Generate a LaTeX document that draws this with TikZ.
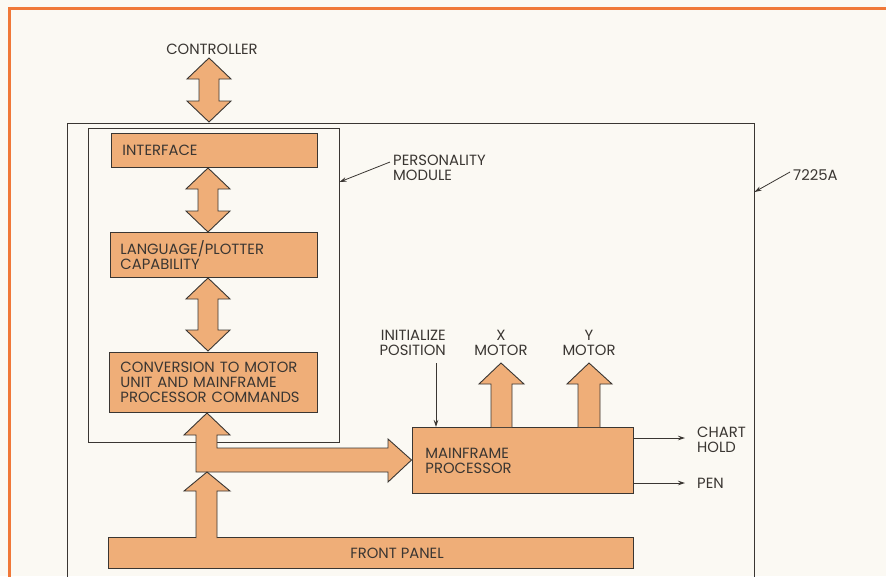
\documentclass[tikz,border=0pt]{standalone}
\usepackage{fontspec}
\setmainfont{Poppins}
\usetikzlibrary{arrows.meta,calc}
\definecolor{bg}{HTML}{FBF9F3}
\definecolor{boxfill}{HTML}{EFAE78}
\definecolor{frameor}{HTML}{F07838}
\definecolor{ink}{HTML}{3A3632}
\begin{document}
\begin{tikzpicture}[x=1pt,y=-1pt,
  every node/.style={font=\fontsize{14.8}{15}\selectfont, text=ink, inner sep=0pt},
  block/.style={draw=ink, line width=0.9pt, fill=boxfill, anchor=north west, align=left, inner ysep=0pt},
  fat/.style={draw=ink, line width=0.9pt, fill=boxfill, line join=miter},
  frameline/.style={draw=ink, line width=0.8pt},
  thinarrow/.style={draw=ink, line width=0.8pt, -{Stealth[length=7pt,width=4.5pt]}},
  lbl/.style={align=left}]
% background and bounding box
\fill[bg] (0,0) rectangle (886,576);
\useasboundingbox (0,0) rectangle (886,576);
% orange frame
\draw[frameor, line width=3pt] (9.5,600) -- (9.5,8.5) -- (900,8.5);
% outer 7225A box (open at bottom)
\draw[frameline] (67,600) -- (67,123) -- (754,123) -- (754,600);
% personality module box
\draw[frameline] (88,128) rectangle (339,442);
\coordinate (pmR) at (339.5,182);
\coordinate (outR) at (754.5,192);

% blocks
\node[block, inner xsep=11pt, text width=184pt, minimum height=34pt] (iface) at (111,133) {INTERFACE};
\node[block, inner xsep=10pt, text width=187pt, minimum height=45pt] (lang) at (110,232) {LANGUAGE/PLOTTER\\CAPABILITY};
\node[block, inner xsep=11pt, text width=186pt, minimum height=60pt] (conv) at (109,352) {CONVERSION TO MOTOR\\UNIT AND MAINFRAME\\PROCESSOR COMMANDS};
\node[block, inner xsep=13pt, text width=195pt, minimum height=66pt] (mf) at (412,427) {MAINFRAME\\PROCESSOR};
\node[block, minimum width=525pt, minimum height=31pt] (fp) at (108,537) {};
\node (fptext) at (397,553) {FRONT PANEL};

% labels
\node (ctrl) at (212,49) {CONTROLLER};
\node[lbl, anchor=west] (pm) at (393,168) {PERSONALITY\\MODULE};
\node[anchor=west] (unit) at (793,175) {7225A};
\node[align=right, anchor=east] (init) at (446,342.5) {INITIALIZE\\POSITION};
\node[align=center] (xm) at (501,342.5) {X\\MOTOR};
\node[align=center] (ym) at (589,342.5) {Y\\MOTOR};
\node[lbl, anchor=west] (chart) at (697,440) {CHART\\HOLD};
\node[anchor=west] (pen) at (697,483) {PEN};

% double fat arrows: #1 centre x, #2 top tip y, #3 bottom tip y
\newcommand\dblfat[3]{%
  \filldraw[fat] (#1,#2) -- (#1+22,#2+21) -- (#1+10,#2+21) -- (#1+10,#3-21) -- (#1+22,#3-21)
    -- (#1,#3) -- (#1-22,#3-21) -- (#1-10,#3-21) -- (#1-10,#2+21) -- (#1-22,#2+21) -- cycle;}
\dblfat{209}{58}{122}
\dblfat{208}{168}{232}
\dblfat{208}{278}{351}

% combined arrow: up to conversion, right to mainframe
\filldraw[fat] (207,413) -- (230,435) -- (217,435) -- (217,448) -- (388,448) -- (388,439)
  -- (411.5,460) -- (388,482) -- (388,472) -- (196,472) -- (196,435) -- (184,435) -- cycle;
% arrow from front panel
\fill[boxfill] (196.4,537) rectangle (216.6,538.5);
\filldraw[fat] (196,538.2) -- (196,491) -- (184,491) -- (207,472) -- (230,491) -- (217,491) -- (217,538.2);

% X and Y motor arrows
\filldraw[fat] (491,427) -- (491,384) -- (479,384) -- (501,363) -- (524,384) -- (512,384) -- (512,427);
\filldraw[fat] (578,427) -- (578,384) -- (567,384) -- (589,363) -- (612,384) -- (600,384) -- (600,427);

% thin arrows
\draw[thinarrow] (init.south -| 436,0) ++(0,8) -- (mf.north -| 436,0);
\draw[thinarrow] (mf.east |- 0,438) -- (685,438);
\draw[thinarrow] (mf.east |- 0,483) -- (685,483);
% leaders
\draw[thinarrow] ($(pm.north west)+(-3,7)$) -- (pmR);
\draw[thinarrow] ($(unit.west)+(-3,-3)$) -- (outR);
\end{tikzpicture}
\end{document}
